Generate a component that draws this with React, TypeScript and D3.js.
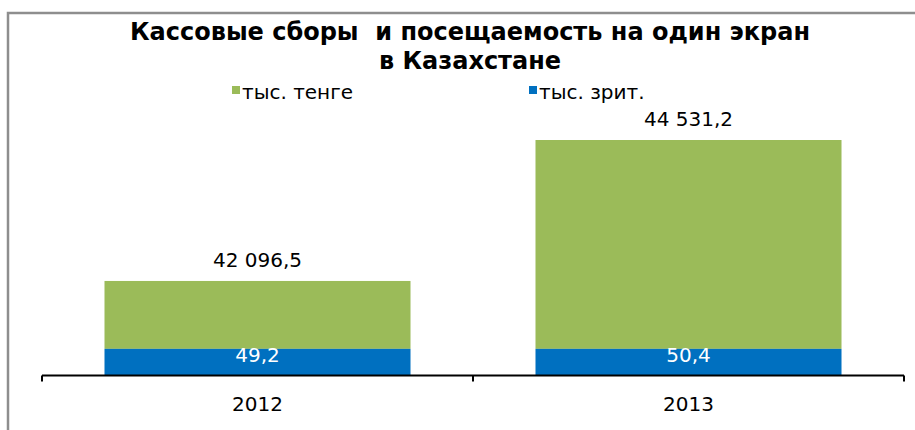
import * as d3 from "d3";

// Data
const years = ["2012", "2013"];
const boxOffice = [42096.5, 44531.2]; // тыс. тенге на один экран
const attendance = [49.2, 50.4]; // тыс. зрит. на один экран
const boxOfficeLabels = ["42 096,5", "44 531,2"];
const attendanceLabels = ["49,2", "50,4"];
const seriesNames = ["тыс. тенге", "тыс. зрит."];
const titleLines = ["Кассовые сборы  и посещаемость на один экран", "в Казахстане"];

const GREEN = "#9BBB59";
const BLUE = "#0070C0";
const FONT = "'DejaVu Sans', Verdana, sans-serif";

const App = () => {
  const width = 915;
  const height = 430;
  const axisY = 375.5;

  const x = d3.scaleBand().domain(years).range([42, 904]).paddingInner(0.29).paddingOuter(0.145);

  // blue segment sits on the axis, green segment stacked on top of it
  const yBlue = d3.scaleLinear().domain([0, 60]).range([axisY, axisY - 32.5]);
  const greenBase = yBlue(attendance[0]);
  const yGreen = d3.scaleLinear().domain([40930, 44531.2]).range([348.5, 140]);

  const ticks = [x.range()[0], ...years.slice(1).map((y) => x(y)! - (x.step() * x.paddingInner()) / 2), x.range()[1]];

  return (
    <svg
      width={width}
      height={height}
      style={{ position: "absolute", left: 0, top: 0, background: "#fff" }}
    >
      <rect x={8} y={13} width={width} height={height} fill="#fff" stroke="#8e8e8e" strokeWidth={2.5} />

      {/* title */}
      {titleLines.map((t, i) => (
        <text
          key={t}
          x={470}
          y={40 + i * 29}
          textAnchor="middle"
          fontFamily={FONT}
          fontWeight="bold"
          fontSize={24}
          fill="#000"
          style={{ whiteSpace: "pre" }}
        >
          {t}
        </text>
      ))}

      {/* legend */}
      {seriesNames.map((name, i) => {
        const lx = i === 0 ? 232 : 529;
        return (
          <g key={name}>
            <rect x={lx} y={86} width={8} height={8} fill={i === 0 ? GREEN : BLUE} />
            <text x={lx + 10} y={99} fontFamily={FONT} fontSize={20} fill="#000">
              {name}
            </text>
          </g>
        );
      })}

      {/* bars */}
      {years.map((yr, i) => {
        const bx = x(yr)!;
        const bw = x.bandwidth();
        const blueTop = yBlue(attendance[i]);
        const greenTop = yGreen(boxOffice[i]);
        const cx = bx + bw / 2;
        return (
          <g key={yr}>
            <rect x={bx} y={greenTop} width={bw} height={greenBase - greenTop} fill={GREEN} />
            <rect x={bx} y={greenBase} width={bw} height={axisY - greenBase} fill={BLUE} />
            <text x={cx} y={greenTop - 14} textAnchor="middle" fontFamily={FONT} fontSize={20} fill="#000">
              {boxOfficeLabels[i]}
            </text>
            <text x={cx} y={blueTop + 13.5} textAnchor="middle" fontFamily={FONT} fontSize={20} fill="#fff">
              {attendanceLabels[i]}
            </text>
            <text x={cx} y={411} textAnchor="middle" fontFamily={FONT} fontSize={20} fill="#000">
              {yr}
            </text>
          </g>
        );
      })}

      {/* category axis */}
      <line x1={x.range()[0]} x2={x.range()[1]} y1={axisY} y2={axisY} stroke="#000" strokeWidth={2} />
      {ticks.map((t, i) => (
        <line key={i} x1={t} x2={t} y1={axisY} y2={axisY + 6} stroke="#000" strokeWidth={2} />
      ))}
    </svg>
  );
};

export default App;
